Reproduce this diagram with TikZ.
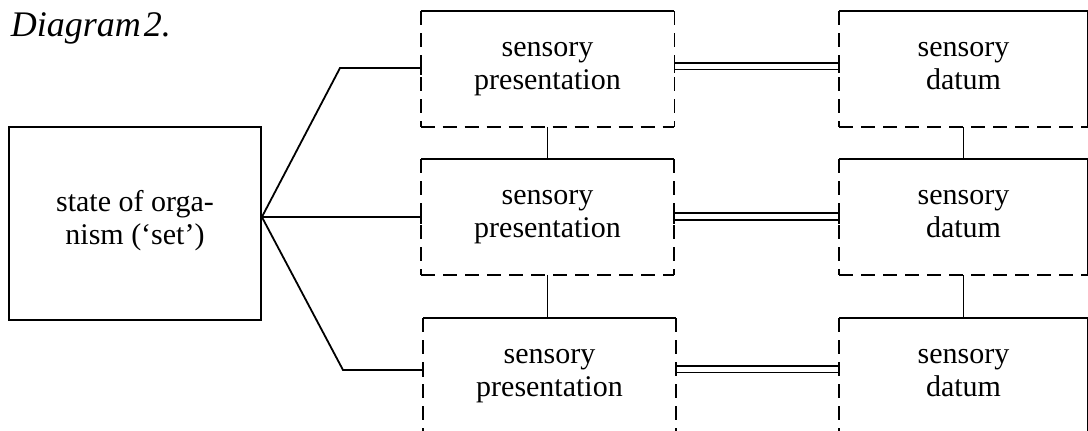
\documentclass[tikz,border=0pt]{standalone}
\usepackage{fontspec}
\setmainfont{Liberation Serif}
\newcommand{\ls}{\rule[-12pt]{0pt}{32pt}}
\begin{document}
\begin{tikzpicture}[x=1pt,y=-1pt,
  line width=1.8pt,
  boxnode/.style={rectangle, inner sep=0pt, align=center,
     font=\fontsize{30}{30}\selectfont},
  dashedge/.style={dash pattern=on 14pt off 8pt},
  tickmark/.style={line width=1.8pt},
  dbl/.style={double, double distance=5pt, line width=1.8pt}]
\path[use as bounding box] (0,0) rectangle (1088,431);
\clip (0,0) rectangle (1088,431);
\fill[white] (0,0) rectangle (1088,431);

% title
\node[anchor=base west, inner sep=0pt, font=\fontsize{36}{36}\selectfont\itshape] (title) at (10,36) {Diagram\kern3pt2.};

% left box
\node[boxnode, minimum width=252pt, minimum height=193pt, draw] (L) at (135,223.5) {\ls state of orga-\\\ls nism (‘set’)};

% presentation boxes
\node[boxnode, minimum width=252pt, minimum height=114pt] (p1) at (547.5,69) {\ls sensory\\\ls presentation};
\node[boxnode, minimum width=251pt, minimum height=114pt] (p2) at (547.5,217) {\ls sensory\\\ls presentation};
\node[boxnode, minimum width=251pt, minimum height=114pt] (p3) at (549.5,376) {\ls sensory\\\ls presentation};

% datum boxes
\node[boxnode, minimum width=247pt, minimum height=114pt] (d1) at (963.5,69) {\ls sensory\\\ls datum};
\node[boxnode, minimum width=247pt, minimum height=114pt] (d2) at (963.5,217) {\ls sensory\\\ls datum};
\node[boxnode, minimum width=247pt, minimum height=114pt] (d3) at (963.5,376) {\ls sensory\\\ls datum};

% box outlines: solid top, dashed sides and bottom
\foreach \b in {p1,p2,p3} {
  \draw (\b.north west) -- (\b.north east);
  \draw[dashedge] (\b.north east) -- (\b.south east);
  \draw[dashedge] (\b.north west) -- (\b.south west);
  \draw[dashedge] (\b.south west) -- (\b.south east);
}
\foreach \b in {d1,d2,d3} {
  \draw (\b.north west) -- (\b.north east) -- (\b.south east);
  \draw[dashedge] (\b.north west) -- (\b.south west);
  \draw[dashedge] (\b.south west) -- (\b.south east);
}

% fan from the left box
\coordinate (apex) at (L.east |- p2.west);
\coordinate (k1) at (340,68);
\coordinate (k3) at (343,370);
\coordinate (e1) at ([yshift=1pt]p1.west);
\coordinate (e3) at ([yshift=6pt]p3.west);
\draw (apex) -- (k1) -- (e1);
\draw (apex) -- (p2.west);
\draw (apex) -- (k3) -- (e3);

% ticks where single lines meet the boxes
\draw[tickmark] ([yshift=7pt]e1) -- ([yshift=-7pt]e1);
\draw[tickmark] ([yshift=7pt]p2.west) -- ([yshift=-7pt]p2.west);
\draw[tickmark] ([yshift=7pt]e3) -- ([yshift=-7pt]e3);

% double connectors
\coordinate (r1a) at ([yshift=3pt]p1.east);
\coordinate (r1b) at ([yshift=3pt]d1.west);
\coordinate (r2a) at ([yshift=0.5pt]p2.east);
\coordinate (r2b) at ([yshift=0.5pt]d2.west);
\coordinate (r3a) at ([yshift=7pt]p3.east);
\coordinate (r3b) at ([yshift=7pt]d3.west);
\foreach \a/\c in {r1a/r1b, r2a/r2b, r3a/r3b} {
  \draw[dbl] (\a) -- (\c);
  \draw[tickmark] ([yshift=7pt]\a) -- ([yshift=-7pt]\a);
  \draw[tickmark] ([yshift=7pt]\c) -- ([yshift=-7pt]\c);
}

% vertical connectors
\draw (p1.south) -- (p2.north);
\draw (p2.south) -- (p2.south |- p3.north);
\draw (d1.south) -- (d2.north);
\draw (d2.south) -- (d3.north);
\end{tikzpicture}
\end{document}
